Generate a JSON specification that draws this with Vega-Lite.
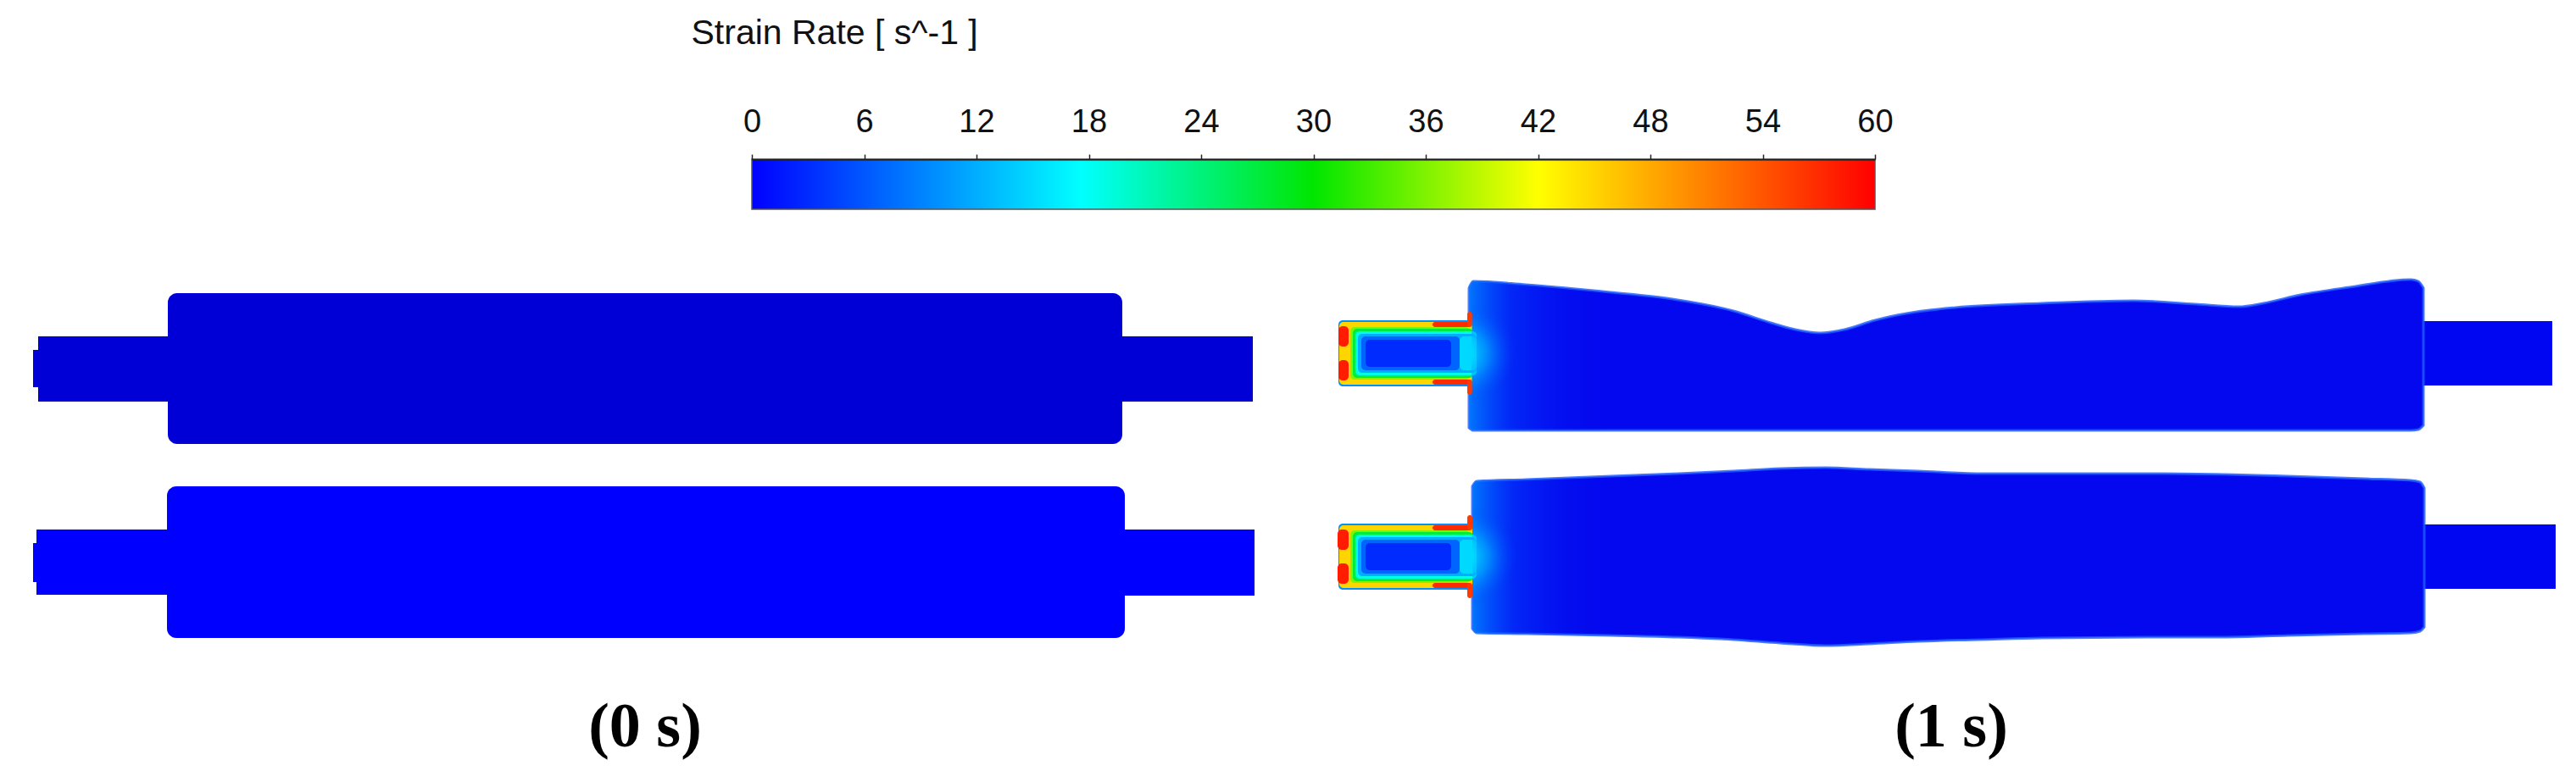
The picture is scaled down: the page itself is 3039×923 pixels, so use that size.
{
  "$schema": "https://vega.github.io/schema/vega-lite/v6.json",
  "width": 3039,
  "height": 923,
  "autosize": {"type": "none"},
  "padding": 0,
  "background": "white",
  "config": {"view": {"stroke": null}},
  "datasets": {
    "leftRolls": [
      {"roll": "upper", "part": "stub", "x1": 39, "x2": 46, "y1": 413, "y2": 457},
      {"roll": "upper", "part": "shaft", "x1": 45, "x2": 199, "y1": 397, "y2": 474},
      {"roll": "upper", "part": "shaft", "x1": 1323, "x2": 1478, "y1": 397, "y2": 474},
      {"roll": "upper", "part": "body", "x1": 198, "x2": 1324, "y1": 346, "y2": 524},
      {"roll": "lower", "part": "stub", "x1": 39, "x2": 44, "y1": 641, "y2": 687},
      {"roll": "lower", "part": "shaft", "x1": 43, "x2": 198, "y1": 625, "y2": 702},
      {"roll": "lower", "part": "shaft", "x1": 1326, "x2": 1480, "y1": 625, "y2": 703},
      {"roll": "lower", "part": "body", "x1": 197, "x2": 1327, "y1": 574, "y2": 753}
    ],
    "rightShafts": [
      {"roll": "upper", "x1": 2856, "x2": 3011, "y1": 379, "y2": 455},
      {"roll": "lower", "x1": 2857, "x2": 3015, "y1": 619, "y2": 695}
    ],
    "rightBodies": [
      {"roll": "upper", "x": 1733, "top": 340, "bot": 505},
      {"roll": "upper", "x": 1738, "top": 332, "bot": 508},
      {"roll": "upper", "x": 1800, "top": 336, "bot": 508},
      {"roll": "upper", "x": 1900, "top": 345, "bot": 508},
      {"roll": "upper", "x": 1973, "top": 353, "bot": 508},
      {"roll": "upper", "x": 2045, "top": 367, "bot": 508},
      {"roll": "upper", "x": 2089, "top": 381, "bot": 508},
      {"roll": "upper", "x": 2118, "top": 389, "bot": 508},
      {"roll": "upper", "x": 2147, "top": 393, "bot": 508},
      {"roll": "upper", "x": 2176, "top": 389, "bot": 508},
      {"roll": "upper", "x": 2212, "top": 378, "bot": 508},
      {"roll": "upper", "x": 2249, "top": 370, "bot": 508},
      {"roll": "upper", "x": 2307, "top": 363, "bot": 508},
      {"roll": "upper", "x": 2408, "top": 358, "bot": 508},
      {"roll": "upper", "x": 2517, "top": 355, "bot": 508},
      {"roll": "upper", "x": 2590, "top": 359, "bot": 508},
      {"roll": "upper", "x": 2641, "top": 362, "bot": 508},
      {"roll": "upper", "x": 2670, "top": 358, "bot": 508},
      {"roll": "upper", "x": 2714, "top": 348, "bot": 508},
      {"roll": "upper", "x": 2772, "top": 339, "bot": 508},
      {"roll": "upper", "x": 2844, "top": 330, "bot": 508},
      {"roll": "upper", "x": 2853, "top": 332, "bot": 507},
      {"roll": "upper", "x": 2859, "top": 340, "bot": 502},
      {"roll": "lower", "x": 1737, "top": 574, "bot": 742},
      {"roll": "lower", "x": 1742, "top": 568, "bot": 747},
      {"roll": "lower", "x": 1800, "top": 566, "bot": 748},
      {"roll": "lower", "x": 1900, "top": 562, "bot": 750},
      {"roll": "lower", "x": 1980, "top": 559, "bot": 752},
      {"roll": "lower", "x": 2045, "top": 556, "bot": 755},
      {"roll": "lower", "x": 2100, "top": 553, "bot": 759},
      {"roll": "lower", "x": 2154, "top": 552, "bot": 762},
      {"roll": "lower", "x": 2205, "top": 554, "bot": 760},
      {"roll": "lower", "x": 2263, "top": 556, "bot": 757},
      {"roll": "lower", "x": 2336, "top": 559, "bot": 755},
      {"roll": "lower", "x": 2408, "top": 559, "bot": 753},
      {"roll": "lower", "x": 2554, "top": 559, "bot": 752},
      {"roll": "lower", "x": 2626, "top": 560, "bot": 752},
      {"roll": "lower", "x": 2699, "top": 562, "bot": 750},
      {"roll": "lower", "x": 2790, "top": 565, "bot": 748},
      {"roll": "lower", "x": 2844, "top": 567, "bot": 747},
      {"roll": "lower", "x": 2855, "top": 569, "bot": 745},
      {"roll": "lower", "x": 2860, "top": 576, "bot": 740}
    ],
    "necks": [
      {"roll": "upper", "rate": 10, "x1": 1579, "x2": 1737, "y1": 378, "y2": 456},
      {"roll": "upper", "rate": 45, "x1": 1580, "x2": 1737, "y1": 380, "y2": 454},
      {"roll": "upper", "rate": 58, "x1": 1579, "x2": 1591, "y1": 385, "y2": 409},
      {"roll": "upper", "rate": 58, "x1": 1579, "x2": 1591, "y1": 425, "y2": 449},
      {"roll": "upper", "rate": 57, "x1": 1690, "x2": 1736, "y1": 380, "y2": 386},
      {"roll": "upper", "rate": 57, "x1": 1690, "x2": 1736, "y1": 448, "y2": 454},
      {"roll": "upper", "rate": 56, "x1": 1731, "x2": 1737, "y1": 368, "y2": 386},
      {"roll": "upper", "rate": 56, "x1": 1731, "x2": 1737, "y1": 448, "y2": 466},
      {"roll": "upper", "rate": 36, "x1": 1593, "x2": 1734, "y1": 386, "y2": 448},
      {"roll": "upper", "rate": 27, "x1": 1596, "x2": 1738, "y1": 388, "y2": 446},
      {"roll": "upper", "rate": 19, "x1": 1599, "x2": 1742, "y1": 391, "y2": 443},
      {"roll": "upper", "rate": 12, "x1": 1602, "x2": 1742, "y1": 394, "y2": 440},
      {"roll": "upper", "rate": 7, "x1": 1606, "x2": 1722, "y1": 397, "y2": 437},
      {"roll": "upper", "rate": 3, "x1": 1611, "x2": 1712, "y1": 401, "y2": 433},
      {"roll": "upper", "rate": 15, "x1": 1722, "x2": 1742, "y1": 397, "y2": 437},
      {"roll": "lower", "rate": 10, "x1": 1579, "x2": 1737, "y1": 618, "y2": 696},
      {"roll": "lower", "rate": 45, "x1": 1580, "x2": 1737, "y1": 620, "y2": 694},
      {"roll": "lower", "rate": 58, "x1": 1578, "x2": 1591, "y1": 625, "y2": 649},
      {"roll": "lower", "rate": 58, "x1": 1578, "x2": 1591, "y1": 665, "y2": 689},
      {"roll": "lower", "rate": 57, "x1": 1690, "x2": 1736, "y1": 620, "y2": 626},
      {"roll": "lower", "rate": 57, "x1": 1690, "x2": 1736, "y1": 688, "y2": 694},
      {"roll": "lower", "rate": 56, "x1": 1731, "x2": 1737, "y1": 608, "y2": 626},
      {"roll": "lower", "rate": 56, "x1": 1731, "x2": 1737, "y1": 688, "y2": 706},
      {"roll": "lower", "rate": 36, "x1": 1593, "x2": 1734, "y1": 626, "y2": 688},
      {"roll": "lower", "rate": 27, "x1": 1596, "x2": 1738, "y1": 628, "y2": 686},
      {"roll": "lower", "rate": 19, "x1": 1599, "x2": 1742, "y1": 631, "y2": 683},
      {"roll": "lower", "rate": 12, "x1": 1602, "x2": 1742, "y1": 634, "y2": 680},
      {"roll": "lower", "rate": 7, "x1": 1606, "x2": 1722, "y1": 637, "y2": 677},
      {"roll": "lower", "rate": 3, "x1": 1611, "x2": 1712, "y1": 641, "y2": 673},
      {"roll": "lower", "rate": 15, "x1": 1722, "x2": 1742, "y1": 637, "y2": 677}
    ],
    "glows": [
      {"roll": "upper", "x1": 1736, "x2": 1840, "y1": 356, "y2": 478},
      {"roll": "lower", "x1": 1737, "x2": 1841, "y1": 596, "y2": 718}
    ],
    "times": [
      {"label": "(0 s)", "xc": 761, "yb": 881},
      {"label": "(1 s)", "xc": 2302, "yb": 881}
    ],
    "colorbar": [
      {"lo": 0, "hi": 60, "top": 188, "bottom": 247}
    ]
  },
  "layer": [
    {
      "layer": [
        {
          "data": {"name": "leftRolls"},
          "transform": [{"filter": "datum.part !== 'body'"}],
          "mark": {"type": "rect"},
          "encoding": {
            "x": {"field": "x1", "type": "quantitative", "scale": {"domain": [0, 3039], "nice": false, "zero": false}, "axis": null},
            "x2": {"field": "x2"},
            "y": {"field": "y1", "type": "quantitative", "scale": {"domain": [0, 923], "nice": false, "zero": false, "reverse": true}, "axis": null},
            "y2": {"field": "y2"},
            "fill": {"field": "roll", "type": "nominal", "scale": {"domain": ["upper", "lower"], "range": ["#0000d6", "#0000ff"]}, "legend": null}
          }
        },
        {
          "data": {"name": "leftRolls"},
          "transform": [{"filter": "datum.part === 'body'"}],
          "mark": {"type": "rect", "cornerRadius": 11},
          "encoding": {
            "x": {"field": "x1", "type": "quantitative", "axis": null},
            "x2": {"field": "x2"},
            "y": {"field": "y1", "type": "quantitative", "axis": null},
            "y2": {"field": "y2"},
            "fill": {"field": "roll", "type": "nominal", "legend": null}
          }
        },
        {
          "data": {"name": "rightShafts"},
          "mark": {"type": "rect", "color": "#0006f2"},
          "encoding": {
            "x": {"field": "x1", "type": "quantitative", "axis": null},
            "x2": {"field": "x2"},
            "y": {"field": "y1", "type": "quantitative", "axis": null},
            "y2": {"field": "y2"}
          }
        },
        {
          "data": {"name": "rightBodies"},
          "mark": {"type": "area", "interpolate": "monotone", "fill": "#0408ee", "fillOpacity": 1, "stroke": "#1f5cff", "strokeWidth": 3, "strokeOpacity": 0.8},
          "encoding": {
            "x": {"field": "x", "type": "quantitative", "axis": null},
            "y": {"field": "top", "type": "quantitative", "axis": null},
            "y2": {"field": "bot"},
            "detail": {"field": "roll", "type": "nominal"}
          }
        },
        {
          "data": {"name": "rightBodies"},
          "transform": [{"filter": "datum.x <= 1900"}],
          "mark": {
            "type": "area",
            "interpolate": "monotone",
            "fill": {"gradient": "linear", "x1": 0, "y1": 0, "x2": 1, "y2": 0, "stops": [
              {"offset": 0, "color": "rgba(0,130,255,0.9)"},
              {"offset": 0.3, "color": "rgba(0,70,255,0.5)"},
              {"offset": 1, "color": "rgba(0,10,240,0)"}
            ]}
          },
          "encoding": {
            "x": {"field": "x", "type": "quantitative", "axis": null},
            "y": {"field": "top", "type": "quantitative", "axis": null},
            "y2": {"field": "bot"},
            "detail": {"field": "roll", "type": "nominal"}
          }
        },
        {
          "data": {"name": "necks"},
          "mark": {"type": "rect", "cornerRadius": 5},
          "encoding": {
            "x": {"field": "x1", "type": "quantitative", "axis": null},
            "x2": {"field": "x2"},
            "y": {"field": "y1", "type": "quantitative", "axis": null},
            "y2": {"field": "y2"},
            "color": {"field": "rate", "type": "quantitative", "scale": {"domain": [0, 17.6, 30, 42, 60], "range": ["#0000ff", "#00ffff", "#00e600", "#ffff00", "#ff0000"], "interpolate": "rgb"}, "legend": null}
          }
        },
        {
          "data": {"name": "glows"},
          "mark": {
            "type": "rect",
            "fill": {"gradient": "radial", "x1": 0, "y1": 0.5, "r1": 0, "x2": 0, "y2": 0.5, "r2": 0.5, "stops": [
              {"offset": 0, "color": "rgba(0,240,255,0.95)"},
              {"offset": 0.45, "color": "rgba(0,170,255,0.65)"},
              {"offset": 1, "color": "rgba(0,60,255,0)"}
            ]}
          },
          "encoding": {
            "x": {"field": "x1", "type": "quantitative", "axis": null},
            "x2": {"field": "x2"},
            "y": {"field": "y1", "type": "quantitative", "axis": null},
            "y2": {"field": "y2"}
          }
        },
        {
          "data": {"name": "times"},
          "mark": {"type": "text", "font": "Liberation Serif", "fontWeight": "bold", "fontSize": 74, "align": "center", "baseline": "alphabetic", "color": "#000000"},
          "encoding": {
            "x": {"field": "xc", "type": "quantitative", "axis": null},
            "y": {"field": "yb", "type": "quantitative", "axis": null},
            "text": {"field": "label", "type": "nominal"}
          }
        }
      ]
    },
    {
      "data": {"name": "colorbar"},
      "mark": {
        "type": "rect",
        "stroke": "#555555",
        "strokeWidth": 1.5,
        "fill": {"gradient": "linear", "x1": 0, "y1": 0, "x2": 1, "y2": 0, "stops": [
          {"offset": 0, "color": "#0000ff"},
          {"offset": 0.293, "color": "#00ffff"},
          {"offset": 0.5, "color": "#00e600"},
          {"offset": 0.7, "color": "#ffff00"},
          {"offset": 1, "color": "#ff0000"}
        ]}
      },
      "encoding": {
        "x": {
          "field": "lo",
          "type": "quantitative",
          "scale": {"domain": [0, 60], "range": [887, 2212], "nice": false, "zero": false},
          "axis": {
            "orient": "top",
            "offset": -188,
            "zindex": 1,
            "values": [0, 6, 12, 18, 24, 30, 36, 42, 48, 54, 60],
            "grid": false,
            "domain": true,
            "domainColor": "#222222",
            "domainWidth": 2,
            "ticks": true,
            "tickSize": 6,
            "tickWidth": 1.5,
            "tickColor": "#222222",
            "labelFont": "Liberation Sans",
            "labelFontSize": 38,
            "labelColor": "#111111",
            "labelBaseline": "alphabetic",
            "labelPadding": 27,
            "labelFlush": false,
            "labelOverlap": false,
            "title": "Strain Rate [ s^-1 ]",
            "titleFont": "Liberation Sans",
            "titleFontSize": 41,
            "titleFontWeight": "normal",
            "titleColor": "#111111",
            "titleAlign": "left",
            "titleBaseline": "alphabetic",
            "titleAngle": 0,
            "titleX": 815,
            "titleY": -137
          }
        },
        "x2": {"field": "hi"},
        "y": {"field": "top", "type": "quantitative", "axis": null},
        "y2": {"field": "bottom"}
      }
    }
  ],
  "resolve": {"scale": {"x": "independent"}, "axis": {"x": "independent"}}
}
